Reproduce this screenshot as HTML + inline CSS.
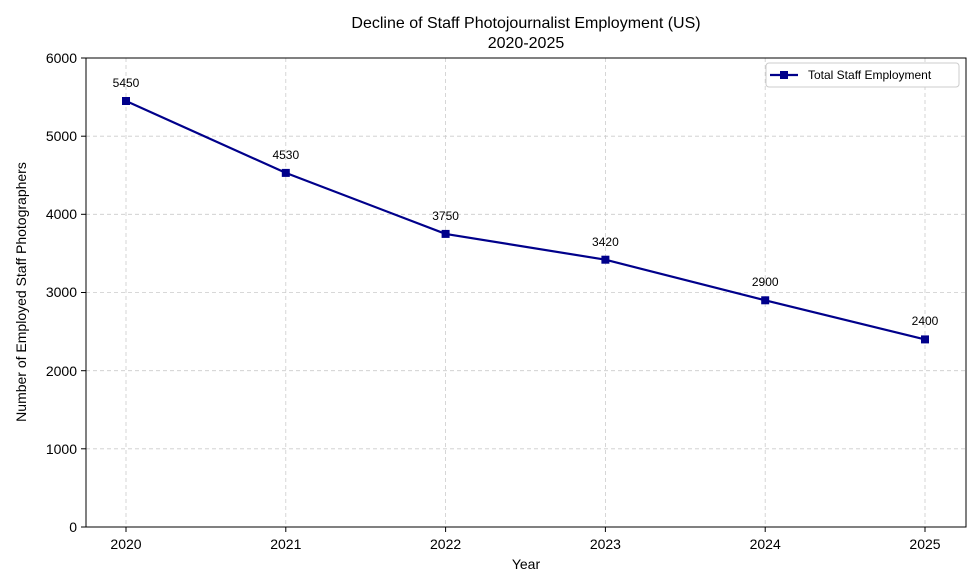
<!DOCTYPE html>
<html><head><style>body{margin:0;background:#fff}svg{display:block;font-family:"Liberation Sans",sans-serif}</style></head>
<body>
<svg width="980" height="588" viewBox="0 0 980 588">
<rect width="980" height="588" fill="#fff"/>
<g stroke="#ccc" stroke-dasharray="4,3" stroke-width="0.8">
<line x1="126" y1="58" x2="126" y2="527"/><line x1="285.8" y1="58" x2="285.8" y2="527"/><line x1="445.6" y1="58" x2="445.6" y2="527"/><line x1="605.4" y1="58" x2="605.4" y2="527"/><line x1="765.2" y1="58" x2="765.2" y2="527"/><line x1="925" y1="58" x2="925" y2="527"/>
<line x1="86" y1="448.8" x2="966" y2="448.8"/><line x1="86" y1="370.7" x2="966" y2="370.7"/><line x1="86" y1="292.5" x2="966" y2="292.5"/><line x1="86" y1="214.3" x2="966" y2="214.3"/><line x1="86" y1="136.2" x2="966" y2="136.2"/>
</g>
<rect x="86" y="58" width="880" height="469" fill="none" stroke="#000" stroke-width="1"/>
<g stroke="#000"><line x1="81" y1="527" x2="86" y2="527"/><line x1="81" y1="448.8" x2="86" y2="448.8"/><line x1="81" y1="370.7" x2="86" y2="370.7"/><line x1="81" y1="292.5" x2="86" y2="292.5"/><line x1="81" y1="214.3" x2="86" y2="214.3"/><line x1="81" y1="136.2" x2="86" y2="136.2"/><line x1="81" y1="58" x2="86" y2="58"/>
<line x1="126" y1="527" x2="126" y2="532"/><line x1="285.8" y1="527" x2="285.8" y2="532"/><line x1="445.6" y1="527" x2="445.6" y2="532"/><line x1="605.4" y1="527" x2="605.4" y2="532"/><line x1="765.2" y1="527" x2="765.2" y2="532"/><line x1="925" y1="527" x2="925" y2="532"/></g>
<g font-size="14" fill="#000" text-anchor="end"><text x="77" y="532">0</text><text x="77" y="454">1000</text><text x="77" y="376">2000</text><text x="77" y="297">3000</text><text x="77" y="219">4000</text><text x="77" y="141">5000</text><text x="77" y="63">6000</text></g>
<g font-size="14" fill="#000" text-anchor="middle"><text x="126" y="549">2020</text><text x="285.8" y="549">2021</text><text x="445.6" y="549">2022</text><text x="605.4" y="549">2023</text><text x="765.2" y="549">2024</text><text x="925" y="549">2025</text>
<text x="526" y="569">Year</text>
<text x="526" y="28" font-size="16">Decline of Staff Photojournalist Employment (US)</text>
<text x="526" y="48" font-size="16">2020-2025</text>
<text transform="translate(26,292) rotate(-90)">Number of Employed Staff Photographers</text></g>
<polyline points="126,101 285.8,172.9 445.6,233.9 605.4,259.7 765.2,300.3 925,339.4" fill="none" stroke="#00008b" stroke-width="2.2"/>
<g fill="#00008b"><rect x="122" y="97" width="8" height="8"/><rect x="281.8" y="168.9" width="8" height="8"/><rect x="441.6" y="229.9" width="8" height="8"/><rect x="601.4" y="255.7" width="8" height="8"/><rect x="761.2" y="296.3" width="8" height="8"/><rect x="921" y="335.4" width="8" height="8"/></g>
<g font-size="12" fill="#000" text-anchor="middle"><text x="126" y="87">5450</text><text x="285.8" y="159">4530</text><text x="445.6" y="220">3750</text><text x="605.4" y="246">3420</text><text x="765.2" y="286">2900</text><text x="925" y="325">2400</text></g>
<rect x="766" y="63" width="193" height="24" rx="3" fill="#fff" stroke="#ccc"/>
<line x1="770" y1="75" x2="798" y2="75" stroke="#00008b" stroke-width="2.2"/><rect x="780" y="71" width="8" height="8" fill="#00008b"/>
<text x="808" y="79" font-size="12" fill="#000">Total Staff Employment</text>
</svg>
</body></html>
